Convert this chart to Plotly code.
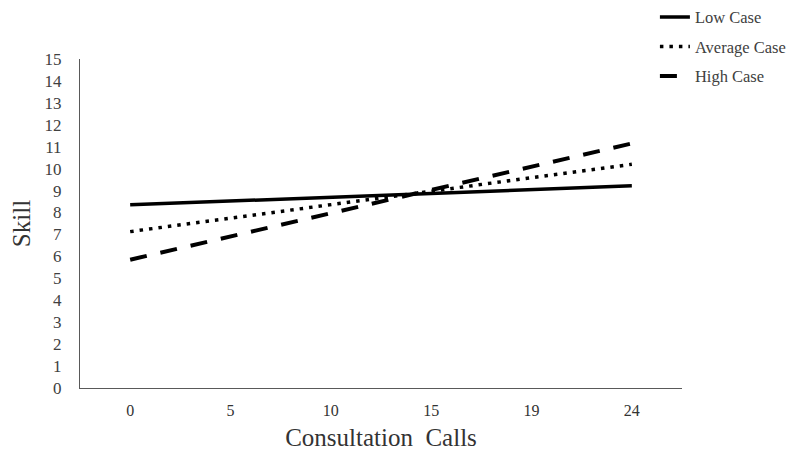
import plotly.graph_objects as go

# x categories (Consultation Calls) and Skill values for each case
calls = ["0", "5", "10", "15", "19", "24"]
low_case = [8.35, 8.52, 8.70, 8.87, 9.05, 9.22]
average_case = [7.13, 7.74, 8.36, 8.97, 9.59, 10.20]
high_case = [5.85, 6.91, 7.97, 9.03, 10.09, 11.15]

serif = "Liberation Serif, Times New Roman, serif"

fig = go.Figure()
fig.add_trace(go.Scatter(x=calls, y=low_case, mode="lines", name="Low Case",
                         legendgroup="a",
                         line=dict(color="black", width=3.5)))
fig.add_trace(go.Scatter(x=calls, y=average_case, mode="lines", name="Average Case",
                         legendgroup="b",
                         line=dict(color="black", width=3.5, dash="3.5px,6px")))
fig.add_trace(go.Scatter(x=calls, y=high_case, mode="lines", name="High Case",
                         legendgroup="c",
                         line=dict(color="black", width=4, dash="17px,14px")))

# page body has an 8px margin, so the figure is 8px smaller than the window
fig.update_layout(
    width=792, height=449,
    margin=dict(l=72, r=118, t=51, b=69, autoexpand=False),
    plot_bgcolor="white",
    paper_bgcolor="white",
    font=dict(family=serif, size=16, color="#404040"),
    legend=dict(x=0.955, y=1.18, xanchor="left", yanchor="top",
                font=dict(family=serif, size=16.5, color="#404040"),
                tracegroupgap=5, bgcolor="rgba(0,0,0,0)"),
    xaxis=dict(
        type="category",
        range=[-0.5, 5.5],
        showline=True, linecolor="#595959", linewidth=1.2,
        showgrid=False, ticks="", zeroline=False,
        ticklabelstandoff=8,
        tickfont=dict(family=serif, size=16, color="#333333"),
        title=dict(text="Consultation  Calls",
                   font=dict(family=serif, size=25, color="#333333"),
                   standoff=10),
    ),
    yaxis=dict(
        range=[0, 15],
        dtick=1,
        showline=True, linecolor="#595959", linewidth=1.2,
        showgrid=False, ticks="", zeroline=False,
        ticklabelstandoff=14,
        tickfont=dict(family=serif, size=17, color="#404040"),
        title=dict(text="Skill",
                   font=dict(family=serif, size=25, color="#333333"),
                   standoff=8),
    ),
)

fig.write_html("out.html")
